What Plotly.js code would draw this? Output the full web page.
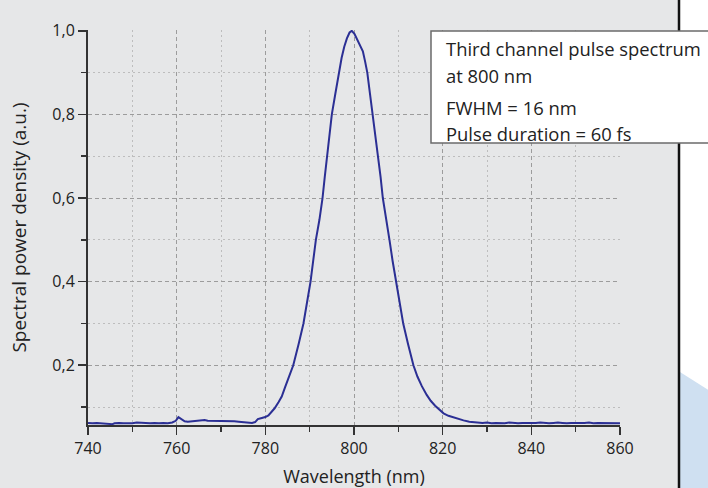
<!DOCTYPE html>
<html>
<head>
<meta charset="utf-8">
<script src="https://cdn.plot.ly/plotly-3.0.1.min.js"></script>
<style>html,body{margin:0;padding:0;background:#e6e7e8;}#chart{width:708px;height:488px;}</style>
</head>
<body>
<div id="chart"></div>
<script>
// Wavelength (nm)
const wavelength = [
  740,741,742,743,744,745,745.5,746,747,748,749,750,751,752,753,754,755,756,757,758,759,
  759.8,760.4,761,761.8,762.5,763.5,764.5,765.5,766.3,767,768,769,770,771,772,773,774,775,776,777,
  777.7,778.3,779,780,780.7,781.4,782.1,783,783.7,784.4,785.2,786.3,787.5,788.6,789.4,790.2,790.8,791.4,
  792.2,792.9,793.4,793.9,794.5,795.0,795.8,796.6,797.2,797.8,798.4,799.0,799.5,800.1,800.6,801.3,802.0,
  802.5,803.0,803.6,804.2,804.9,805.5,806.0,806.5,807.2,808.0,808.7,809.5,810.3,811.1,812.2,813.4,814.3,
  815.3,816.4,817.3,818.3,819.3,820.2,821.3,822.4,823.5,824.7,826,827,828,829,830,831,832,833,834,835,
  836,837,838,839,840,841,842,843,844,845,846,847,848,849,850,851,852,853,854,855,856,857,858,859,860
];
// Spectral power density (a.u.)
const power = [
  0.062,0.061,0.062,0.061,0.061,0.060,0.059,0.061,0.062,0.061,0.061,0.061,0.063,0.062,0.062,0.061,0.062,0.061,0.062,0.061,0.063,
  0.067,0.076,0.071,0.066,0.065,0.066,0.067,0.068,0.069,0.067,0.067,0.066,0.067,0.066,0.067,0.066,0.065,0.064,0.062,0.062,
  0.064,0.071,0.073,0.076,0.080,0.089,0.097,0.112,0.125,0.146,0.168,0.200,0.250,0.300,0.350,0.400,0.450,0.500,
  0.548,0.600,0.650,0.700,0.750,0.800,0.850,0.900,0.935,0.962,0.982,0.996,1.000,0.993,0.982,0.965,0.951,
  0.927,0.900,0.850,0.800,0.750,0.700,0.650,0.600,0.548,0.500,0.450,0.400,0.350,0.300,0.250,0.200,0.173,
  0.150,0.129,0.115,0.103,0.093,0.085,0.079,0.075,0.071,0.068,0.065,0.064,0.063,0.062,0.063,0.061,0.062,0.062,0.061,0.063,
  0.062,0.061,0.062,0.062,0.061,0.062,0.063,0.062,0.061,0.062,0.063,0.062,0.061,0.062,0.062,0.061,0.062,0.063,0.061,0.062,0.062,0.061,0.062,0.062,0.061
];
const infoLines = [
  "Third channel pulse spectrum",
  "at 800 nm",
  "FWHM = 16 nm",
  "Pulse duration = 60 fs"
];
const xTitle = "Wavelength (nm)";
const yTitle = "Spectral power density (a.u.)";

const FONT = "'Open Sans', sans-serif";
const L = 88, R = 88, T = 30, B = 63, W = 708, H = 488;
const pw = W - L - R, ph = H - T - B;
const px = v => (v - L) / pw;
const py = v => (H - B - v) / ph;
const infoY = [48, 76, 107, 133];

const trace = {
  x: wavelength, y: power, type: 'scatter', mode: 'lines',
  line: {color: '#2b2f94', width: 2}, hoverinfo: 'skip'
};

const axisCommon = {
  showline: true, linecolor: '#333', linewidth: 2,
  ticks: 'outside', ticklen: 8, tickwidth: 1.5, tickcolor: '#333',
  showgrid: true, gridcolor: '#9c9c9c', gridwidth: 1, griddash: '4px,3px',
  zeroline: false, tickfont: {family: FONT, size: 16, color: '#222'},
  minor: {ticks: 'outside', ticklen: 5, tickwidth: 1.5, tickcolor: '#333',
          showgrid: true, gridcolor: '#bdbdbd', gridwidth: 1, griddash: '2px,3px'}
};

const layout = {
  width: W, height: H,
  margin: {l: L, r: R, t: T, b: B},
  paper_bgcolor: '#e6e7e8', plot_bgcolor: '#e6e7e8',
  separators: ', ',
  showlegend: false,
  font: {family: FONT, color: '#222'},
  xaxis: Object.assign({}, axisCommon, {
    range: [740, 860], tick0: 740, dtick: 20,
    minor: Object.assign({}, axisCommon.minor, {dtick: 10, tick0: 740}),
    title: {text: xTitle, font: {family: FONT, size: 18, color: '#222'}, standoff: 13}
  }),
  yaxis: Object.assign({}, axisCommon, {
    range: [0.057, 1.002], tick0: 0, dtick: 0.2, tickformat: '.1f',
    minor: Object.assign({}, axisCommon.minor, {dtick: 0.1, tick0: 0}),
    title: {text: yTitle, font: {family: FONT, size: 19, color: '#222'}, standoff: 21}
  }),
  shapes: [
    {type: 'rect', xref: 'paper', yref: 'paper', layer: 'above',
     x0: px(680), x1: px(712), y0: py(490), y1: py(-2),
     fillcolor: '#ffffff', line: {width: 0}},
    {type: 'path', xref: 'paper', yref: 'paper', layer: 'above',
     path: `M ${px(680)} ${py(372)} L ${px(710)} ${py(391)} L ${px(710)} ${py(490)} L ${px(680)} ${py(490)} Z`,
     fillcolor: '#cfe0f1', line: {width: 0}},
    {type: 'line', xref: 'paper', yref: 'paper', layer: 'above',
     x0: px(679), x1: px(679), y0: py(490), y1: py(-2),
     line: {color: '#111', width: 2.5}},
    {type: 'rect', xref: 'paper', yref: 'paper', layer: 'above',
     x0: px(431), x1: px(714), y0: py(143), y1: py(31),
     fillcolor: '#ffffff', line: {color: '#6b6b6b', width: 1.5}}
  ],
  annotations: infoLines.map((t, i) => ({
    text: t, xref: 'paper', yref: 'paper', x: px(444), y: py(infoY[i]),
    xanchor: 'left', yanchor: 'middle', showarrow: false, align: 'left',
    font: {family: FONT, size: 18.4, color: '#222'}
  }))
};

Plotly.newPlot('chart', [trace], layout, {displayModeBar: false, staticPlot: true});
</script>
</body>
</html>
